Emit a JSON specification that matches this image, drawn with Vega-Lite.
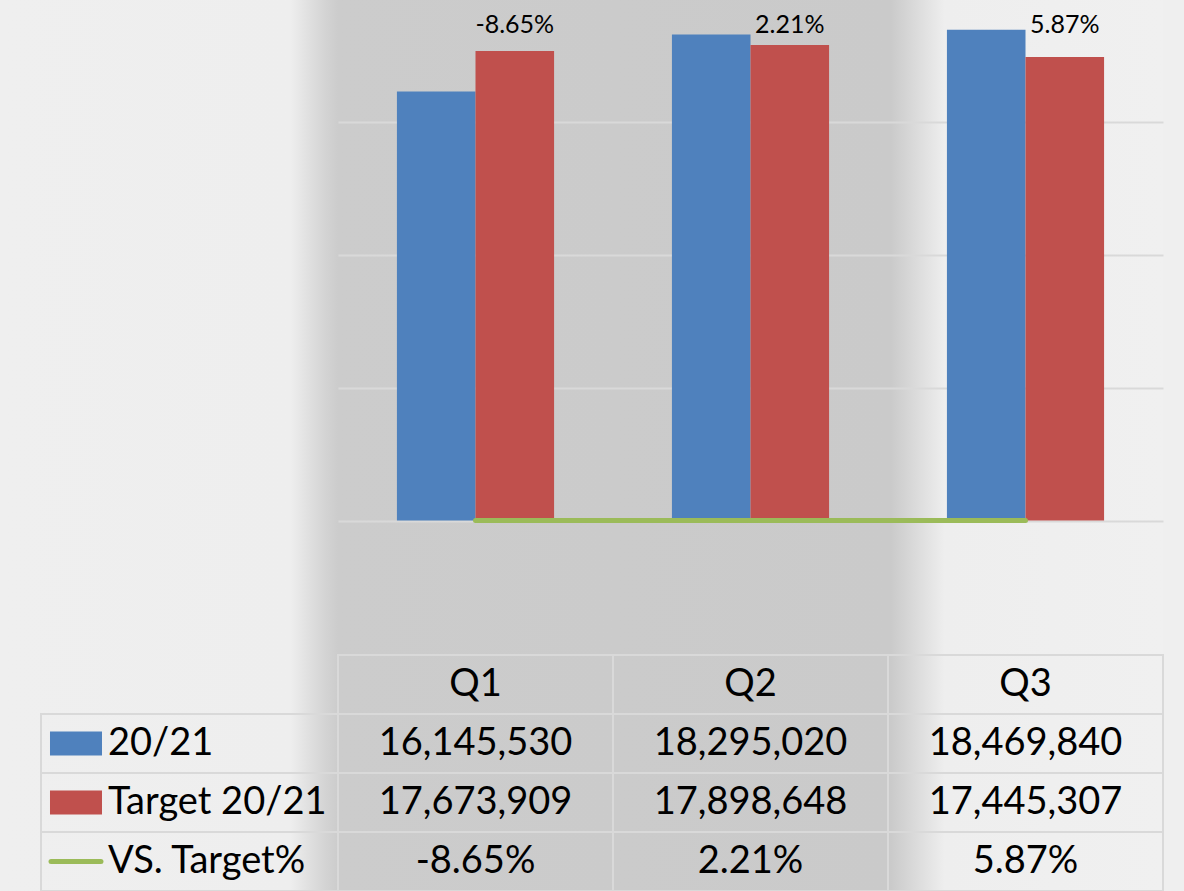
{
  "$schema": "https://vega.github.io/schema/vega-lite/v6.json",
  "padding": {"left": 0, "top": 0, "right": 21, "bottom": 0},
  "background": "#efefef",
  "bounds": "flush",
  "spacing": 0,
  "columns": 2,
  "config": {
    "view": {"stroke": null},
    "font": "Lato",
    "locale": {"number": {"decimal": ".", "thousands": ",", "grouping": [3], "currency": ["$", ""], "minus": "-"}}
  },
  "datasets": {
    "sales": [
      {"quarter": "Q1", "series": "20/21", "value": 16145530},
      {"quarter": "Q2", "series": "20/21", "value": 18295020},
      {"quarter": "Q3", "series": "20/21", "value": 18469840},
      {"quarter": "Q1", "series": "Target 20/21", "value": 17673909},
      {"quarter": "Q2", "series": "Target 20/21", "value": 17898648},
      {"quarter": "Q3", "series": "Target 20/21", "value": 17445307},
      {"quarter": "Q1", "series": "VS. Target%", "value": -0.0865},
      {"quarter": "Q2", "series": "VS. Target%", "value": 0.0221},
      {"quarter": "Q3", "series": "VS. Target%", "value": 0.0587}
    ]
  },
  "concat": [
    {
      "width": 338,
      "height": 655,
      "data": {"values": []},
      "view": {"fill": {"gradient": "linear", "x1": 0, "y1": 0, "x2": 1, "y2": 0, "stops": [{"offset": 0, "color": "#efefef"}, {"offset": 0.86, "color": "#eeeeee"}, {"offset": 0.96, "color": "#d4d4d4"}, {"offset": 1, "color": "#cccccc"}]}, "stroke": null},
      "mark": {"type": "text"}
    },
    {
      "width": 825,
      "height": 655,
      "data": {"name": "sales"},
      "view": {"fill": {"gradient": "linear", "x1": 0, "y1": 0, "x2": 1, "y2": 0, "stops": [{"offset": 0, "color": "#cccccc"}, {"offset": 0.67, "color": "#cacaca"}, {"offset": 0.735, "color": "#eeeeee"}, {"offset": 1, "color": "#f0f0f0"}]}, "stroke": null},
      "encoding": {
        "x": {"field": "quarter", "type": "nominal", "axis": null, "scale": {"type": "band", "domain": ["Q1", "Q2", "Q3"], "paddingInner": 0, "paddingOuter": 0}},
        "y": {"field": "value", "type": "quantitative", "scale": {"domain": [-5062580, 19591620], "nice": false, "zero": false},
              "axis": {"title": null, "labels": false, "ticks": false, "domain": false, "grid": true, "values": [0, 5000000, 10000000, 15000000], "gridColor": "#d9d9d9", "gridWidth": 2, "minExtent": 0, "maxExtent": 0}}
      },
      "layer": [
        {
          "transform": [{"filter": "datum.series !== 'VS. Target%'"}],
          "mark": {"type": "bar"},
          "encoding": {
            "xOffset": {"field": "series", "type": "nominal", "scale": {"domain": ["20/21", "Target 20/21"], "paddingInner": 0, "paddingOuter": 0.75}},
            "y2": {"datum": 0},
            "color": {"field": "series", "type": "nominal", "legend": null, "scale": {"domain": ["20/21", "Target 20/21", "VS. Target%"], "range": ["#4F81BD", "#C0504D", "#9BBB59"]}}
          }
        },
        {
          "transform": [{"filter": "datum.series === 'VS. Target%'"}],
          "mark": {"type": "line", "color": "#9BBB59", "strokeWidth": 5, "strokeCap": "round"}
        },
        {
          "transform": [{"filter": "datum.series === 'VS. Target%'"}],
          "mark": {"type": "text", "fontSize": 25, "baseline": "alphabetic", "color": "#000000"},
          "encoding": {
            "y": {"datum": 18350000},
            "xOffset": {"datum": "Target 20/21"},
            "text": {"field": "value", "format": ".2%"}
          }
        }
      ]
    },
    {
      "width": 338,
      "height": 236,
      "data": {"name": "sales"},
      "view": {"fill": {"gradient": "linear", "x1": 0, "y1": 0, "x2": 1, "y2": 0, "stops": [{"offset": 0, "color": "#efefef"}, {"offset": 0.86, "color": "#eeeeee"}, {"offset": 0.96, "color": "#d4d4d4"}, {"offset": 1, "color": "#cccccc"}]}, "stroke": null},
      "transform": [{"filter": "datum.quarter === 'Q1'"}],
      "encoding": {
        "x": {"datum": "label", "type": "nominal", "axis": null, "scale": {"type": "band", "domain": ["label"], "paddingInner": 0, "paddingOuter": 0.069, "align": 1}},
        "y": {"field": "series", "type": "nominal", "axis": null, "scale": {"type": "band", "domain": ["Quarter", "20/21", "Target 20/21", "VS. Target%"], "paddingInner": 0, "paddingOuter": 0}}
      },
      "layer": [
        {"mark": {"type": "rect", "fill": "transparent", "stroke": "#d9d9d9", "strokeWidth": 2}},
        {
          "transform": [{"filter": "datum.series !== 'VS. Target%'"}],
          "mark": {"type": "point", "shape": "M-1,-0.4615H1V0.4615H-1Z", "size": 2704, "filled": true, "opacity": 1, "xOffset": -113.5},
          "encoding": {"color": {"field": "series", "type": "nominal", "legend": null, "scale": {"domain": ["20/21", "Target 20/21", "VS. Target%"], "range": ["#4F81BD", "#C0504D", "#9BBB59"]}}}
        },
        {
          "transform": [{"filter": "datum.series === 'VS. Target%'"}],
          "mark": {"type": "point", "shape": "M-0.96,0H0.96", "size": 2704, "filled": false, "stroke": "#9BBB59", "strokeWidth": 5, "strokeCap": "round", "opacity": 1, "xOffset": -113.5}
        },
        {
          "mark": {"type": "text", "align": "left", "baseline": "middle", "fontSize": 38, "dx": -81.5, "color": "#000000"},
          "encoding": {"text": {"field": "series"}}
        }
      ]
    },
    {
      "width": 825,
      "height": 236,
      "data": {"name": "sales"},
      "view": {"fill": {"gradient": "linear", "x1": 0, "y1": 0, "x2": 1, "y2": 0, "stops": [{"offset": 0, "color": "#cccccc"}, {"offset": 0.67, "color": "#cacaca"}, {"offset": 0.735, "color": "#eeeeee"}, {"offset": 1, "color": "#f0f0f0"}]}, "stroke": null},
      "encoding": {
        "x": {"field": "quarter", "type": "nominal", "axis": null, "scale": {"type": "band", "domain": ["Q1", "Q2", "Q3"], "paddingInner": 0, "paddingOuter": 0}},
        "y": {"field": "series", "type": "nominal", "axis": null, "scale": {"type": "band", "domain": ["Quarter", "20/21", "Target 20/21", "VS. Target%"], "paddingInner": 0, "paddingOuter": 0}}
      },
      "layer": [
        {"mark": {"type": "rect", "fill": "transparent", "stroke": "#d9d9d9", "strokeWidth": 2}},
        {
          "transform": [{"filter": "datum.series === '20/21'"}],
          "mark": {"type": "rect", "fill": "transparent", "stroke": "#d9d9d9", "strokeWidth": 2},
          "encoding": {"y": {"datum": "Quarter"}}
        },
        {
          "transform": [{"filter": "datum.series === '20/21'"}],
          "mark": {"type": "text", "fontSize": 38, "baseline": "middle", "color": "#000000"},
          "encoding": {"y": {"datum": "Quarter"}, "text": {"field": "quarter"}}
        },
        {
          "transform": [{"filter": "datum.series !== 'VS. Target%'"}],
          "mark": {"type": "text", "fontSize": 38, "baseline": "middle", "color": "#000000"},
          "encoding": {"text": {"field": "value", "format": ",d"}}
        },
        {
          "transform": [{"filter": "datum.series === 'VS. Target%'"}],
          "mark": {"type": "text", "fontSize": 38, "baseline": "middle", "color": "#000000"},
          "encoding": {"text": {"field": "value", "format": ".2%"}}
        }
      ]
    }
  ]
}
